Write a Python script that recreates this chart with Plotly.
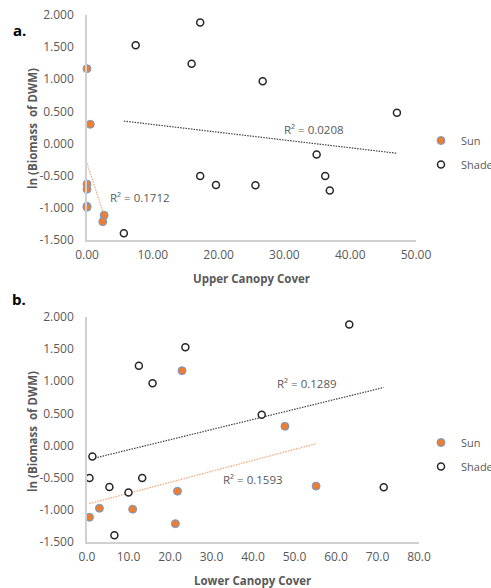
import numpy as np
import plotly.graph_objects as go

W, H = 491, 588

# ln(biomass of DWM) per site, shared by both panels
sun_y = [1.165, 0.30, -0.63, -0.71, -0.975, -0.99, -1.115, -1.215]
shade_y = [1.53, 1.885, 1.24, 0.97, 0.48, -0.17, -0.505, -0.505, -0.645, -0.65, -0.73, -1.395]

# canopy cover per site
upper_sun_x = [0.0, 0.5, 0.0, 0.0, 0.0, 0.0, 2.6, 2.4]
upper_shade_x = [7.4, 17.2, 15.9, 26.7, 47.1, 34.9, 17.2, 36.2, 19.6, 25.6, 36.9, 5.6]
lower_sun_x = [22.9, 47.7, 55.2, 21.8, 3.0, 11.0, 0.6, 21.3]
lower_shade_x = [23.7, 63.2, 12.5, 15.8, 42.1, 1.3, 0.6, 13.3, 5.4, 71.5, 10.0, 6.6]

# R² labels as printed next to each trendline
upper_r2 = {"sun": "R² = 0.1712", "shade": "R² = 0.0208"}
lower_r2 = {"sun": "R² = 0.1593", "shade": "R² = 0.1289"}
upper_r2_pos = {"sun": (8.0, -0.84), "shade": (34.5, 0.22)}
lower_r2_pos = {"sun": (40.1, -0.53), "shade": (53.1, 0.96)}

y_ticks = [-1.5, -1.0, -0.5, 0.0, 0.5, 1.0, 1.5, 2.0]
y_tick_text = ["-1.500", "-1.000", "-0.500", "0.000", "0.500", "1.000", "1.500", "2.000"]
upper_x_ticks = [0, 10, 20, 30, 40, 50]
upper_x_tick_text = ["0.00", "10.00", "20.00", "30.00", "40.00", "50.00"]
lower_x_ticks = [0, 10, 20, 30, 40, 50, 60, 70, 80]
lower_x_tick_text = ["0.0", "10.0", "20.0", "30.0", "40.0", "50.0", "60.0", "70.0", "80.0"]

SUN = "#ED7D31"
SUN_EDGE = "#6F9FD8"
SHADE_EDGE = "#262626"
TXT = "#595959"
FONT = "Open Sans, Liberation Sans, sans-serif"
DOTS = "1.5px,1.2px"


def px(x):
    return x / W


def py(y):
    return 1 - y / H


def trend(x, y):
    slope, icpt = np.polyfit(np.asarray(x, float), np.asarray(y, float), 1)
    xs = np.array([min(x), max(x)])
    return xs, slope * xs + icpt


fig = go.Figure()

panels = [
    dict(xa="x", ya="y", leg="legend", sx=upper_sun_x, hx=upper_shade_x,
         r2=upper_r2, r2pos=upper_r2_pos),
    dict(xa="x2", ya="y2", leg="legend2", sx=lower_sun_x, hx=lower_shade_x,
         r2=lower_r2, r2pos=lower_r2_pos),
]

for p in panels:
    # dotted linear trendlines
    tx, ty = trend(p["sx"], sun_y)
    fig.add_trace(go.Scatter(x=tx, y=ty, mode="lines", xaxis=p["xa"], yaxis=p["ya"],
                             line=dict(color="#F4A572", width=1.2, dash=DOTS),
                             showlegend=False, hoverinfo="skip"))
    tx, ty = trend(p["hx"], shade_y)
    fig.add_trace(go.Scatter(x=tx, y=ty, mode="lines", xaxis=p["xa"], yaxis=p["ya"],
                             line=dict(color="#404040", width=1.2, dash=DOTS),
                             showlegend=False, hoverinfo="skip"))
    fig.add_trace(go.Scatter(x=p["sx"], y=sun_y, mode="markers", name="Sun",
                             xaxis=p["xa"], yaxis=p["ya"], legend=p["leg"],
                             legendgroup="sun" + p["leg"], cliponaxis=False,
                             marker=dict(size=8, color=SUN,
                                         line=dict(color=SUN_EDGE, width=1))))
    fig.add_trace(go.Scatter(x=p["hx"], y=shade_y, mode="markers", name="Shade",
                             xaxis=p["xa"], yaxis=p["ya"], legend=p["leg"],
                             legendgroup="shade" + p["leg"], cliponaxis=False,
                             marker=dict(size=7, color="white",
                                         line=dict(color=SHADE_EDGE, width=1.5))))
    for key in ("sun", "shade"):
        fig.add_annotation(x=p["r2pos"][key][0], y=p["r2pos"][key][1],
                           xref=p["xa"], yref=p["ya"], text=p["r2"][key],
                           showarrow=False, font=dict(size=11.5, color=TXT, family=FONT))

axis_common = dict(showgrid=False, zeroline=False, ticks="", showline=True,
                   linecolor="#D0D0D0", linewidth=1.5, automargin=False,
                   tickfont=dict(size=12, color=TXT, family=FONT))

legend_common = dict(xanchor="left", yanchor="top",
                     font=dict(size=11, color=TXT, family=FONT),
                     bgcolor="rgba(0,0,0,0)", tracegroupgap=5, itemwidth=30)

fig.update_layout(
    width=W, height=H, margin=dict(l=0, r=0, t=0, b=0, autoexpand=False),
    paper_bgcolor="white", plot_bgcolor="white",
    font=dict(family=FONT, color=TXT),
    xaxis=dict(domain=[px(87), px(416)], range=[0, 50], anchor="y",
               tickvals=upper_x_ticks, ticktext=upper_x_tick_text,
               ticklabelstandoff=3, **axis_common),
    yaxis=dict(domain=[py(240), py(15)], range=[-1.5, 2.0], anchor="x",
               tickvals=y_ticks, ticktext=y_tick_text,
               ticklabelstandoff=9, **axis_common),
    xaxis2=dict(domain=[px(87), px(419)], range=[0, 80], anchor="y2",
                tickvals=lower_x_ticks, ticktext=lower_x_tick_text,
                ticklabelstandoff=3, **axis_common),
    yaxis2=dict(domain=[py(542), py(317)], range=[-1.5, 2.0], anchor="x2",
                tickvals=y_ticks, ticktext=y_tick_text,
                ticklabelstandoff=9, **axis_common),
    legend=dict(x=px(421), y=py(126), **legend_common),
    legend2=dict(x=px(421), y=py(428), **legend_common),
)

# panel letters and axis titles
bold = dict(size=11.5, color=TXT, family=FONT)
notes = [
    ("<b>a.</b>", 19, 30, 0, dict(size=15, color="black", family=FONT)),
    ("<b>b.</b>", 19, 299, 0, dict(size=15, color="black", family=FONT)),
    ("<b>Upper Canopy Cover</b>", 251.5, 278, 0, bold),
    ("<b>Lower Canopy Cover</b>", 253, 580, 0, bold),
    ("<b>ln (Biomass&nbsp; of DWM)</b>", 32, 128, -90, bold),
    ("<b>ln (Biomass&nbsp; of DWM)</b>", 32, 431, -90, bold),
]
for text, x, y, ang, f in notes:
    fig.add_annotation(x=px(x), y=py(y), xref="paper", yref="paper", text=text,
                       showarrow=False, textangle=ang, font=f,
                       xanchor="center", yanchor="middle")

fig.write_html("out.html")
